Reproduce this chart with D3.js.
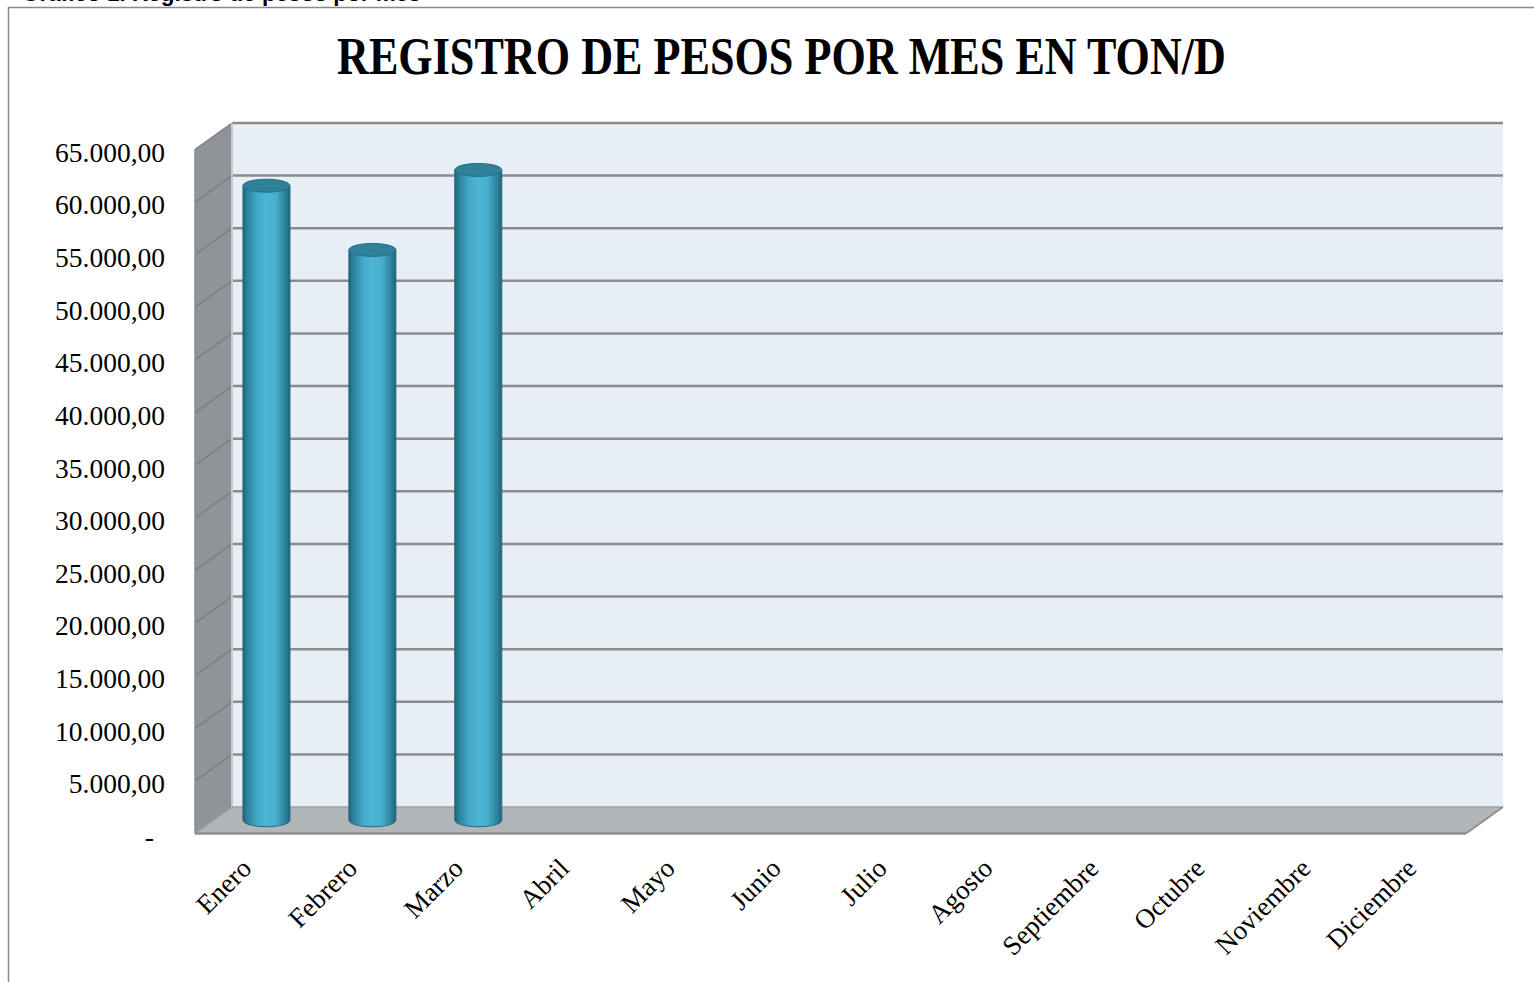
<!DOCTYPE html>
<html><head><meta charset="utf-8">
<script src="https://cdn.jsdelivr.net/npm/d3@7"></script>
<style>body{margin:0;background:#fff;overflow:hidden}svg{display:block}</style>
</head><body>
<svg id="c" width="1534" height="982"></svg>
<script>
// ---- data ----
const months = ["Enero","Febrero","Marzo","Abril","Mayo","Junio","Julio","Agosto","Septiembre","Octubre","Noviembre","Diciembre"];
const values = [60300, 54200, 61800, null, null, null, null, null, null, null, null, null];
const yTicks = [0,5000,10000,15000,20000,25000,30000,35000,40000,45000,50000,55000,60000,65000];
const title = "REGISTRO DE PESOS POR MES EN TON/D";
const caption = "Gráfico 1. Registro de pesos por mes";

// ---- layout ----
const svg = d3.select("#c");
const back = {l:232, r:1503, t:123, b:807};
const DX = -37, DY = 26.5;          // depth offset back -> front
const locale = d3.formatLocale({decimal:",", thousands:".", grouping:[3], currency:["",""]});
const fmt = v => v === 0 ? "-" : locale.format(",.2f")(v);

const yBack = d3.scaleLinear().domain([0,65000]).range([back.b, back.t]);
const yFront = d3.scaleLinear().domain([0,65000]).range([back.b+DY, back.t+DY]);
const xBack = d3.scaleBand().domain(months).range([back.l, back.r]).paddingInner(0.556).paddingOuter(0.278);
const xFront = d3.scaleBand().domain(months).range([back.l+DX, back.r+DX]).paddingInner(0.556).paddingOuter(0.278);

// frame and clipped caption
svg.append("text").attr("x",22).attr("y",1).attr("font-family","Liberation Sans, Arial, sans-serif")
  .attr("font-weight","bold").attr("font-size",22.5).attr("fill","#000").text(caption);
svg.append("path").attr("d","M8.5,982 L8.5,7.5 L1534,7.5").attr("fill","none").attr("stroke","#8a8a8a").attr("stroke-width",1.5);

// title
svg.append("text").attr("x",781.5).attr("y",74).attr("text-anchor","middle")
  .attr("font-family","Liberation Serif, 'DejaVu Serif', serif").attr("font-weight","bold")
  .attr("font-size",52).attr("textLength",889).attr("lengthAdjust","spacingAndGlyphs")
  .attr("fill","#000").text(title);

// back wall
svg.append("rect").attr("x",back.l).attr("y",back.t).attr("width",back.r-back.l).attr("height",back.b-back.t).attr("fill","#e8eef5");
// side wall
svg.append("polygon").attr("points",[[back.l+DX,back.t+DY],[back.l,back.t],[back.l,back.b],[back.l+DX,back.b+DY]].join(" "))
  .attr("fill","#909398");
// floor
svg.append("polygon").attr("points",[[back.l,back.b],[back.r,back.b],[back.r+DX,back.b+DY],[back.l+DX,back.b+DY]].join(" "))
  .attr("fill","#b3b6b9");

// gridlines (back wall + side wall)
const grid = svg.append("g");
grid.selectAll("line.g").data(yTicks.filter(d=>d>0)).join("line").attr("class","g")
  .attr("x1",back.l).attr("x2",back.r).attr("y1",d=>yBack(d)).attr("y2",d=>yBack(d))
  .attr("stroke","#8c8c8c").attr("stroke-width",2.5);
grid.selectAll("line.s").data(yTicks.filter(d=>d>0)).join("line").attr("class","s")
  .attr("x1",back.l+DX).attr("x2",back.l).attr("y1",d=>yFront(d)).attr("y2",d=>yBack(d))
  .attr("stroke","#7c7f83").attr("stroke-width",1.5);
// edges
svg.append("line").attr("x1",back.l).attr("x2",back.l).attr("y1",back.t).attr("y2",back.b).attr("stroke","#c6cacf").attr("stroke-width",2);
svg.append("line").attr("x1",back.l).attr("x2",back.r).attr("y1",back.b).attr("y2",back.b).attr("stroke","#9ea1a4").attr("stroke-width",1.5);
svg.append("line").attr("x1",back.l+DX).attr("x2",back.l).attr("y1",back.b+DY).attr("y2",back.b).attr("stroke","#9a9da1").attr("stroke-width",1.5);
svg.append("line").attr("x1",back.l+DX).attr("x2",back.r+DX).attr("y1",back.b+DY).attr("y2",back.b+DY).attr("stroke","#8d8f92").attr("stroke-width",2.5);
svg.append("line").attr("x1",back.r+DX).attr("x2",back.r).attr("y1",back.b+DY).attr("y2",back.b).attr("stroke","#8d8f92").attr("stroke-width",2);
svg.append("line").attr("x1",back.l+DX).attr("x2",back.l+DX).attr("y1",back.t+DY).attr("y2",back.b+DY).attr("stroke","#8a8d91").attr("stroke-width",1.5);

// gradient for cylinders
const defs = svg.append("defs");
const gr = defs.append("linearGradient").attr("id","cyl").attr("x1","0").attr("x2","1").attr("y1","0").attr("y2","0");
[["0%","#1d6379"],["8%","#2b8099"],["30%","#42a9c7"],["50%","#4db6d4"],["70%","#47afcd"],["88%","#2f87a1"],["100%","#1f6478"]]
  .forEach(([o,c])=>gr.append("stop").attr("offset",o).attr("stop-color",c));

// cylinders at mid depth
const bars = svg.append("g").attr("transform",`translate(${DX/2},${DY/2})`);
const rx = xBack.bandwidth()/2, ry = 6.5;
const data = months.map((m,i)=>({m, v:values[i]})).filter(d=>d.v!=null);
const bg = bars.selectAll("g.bar").data(data).join("g").attr("class","bar");
bg.append("path").attr("d",d=>{
  const cx = xBack(d.m)+rx, yt = yBack(d.v), yb = yBack(0);
  return `M${cx-rx},${yt} L${cx-rx},${yb} A${rx},${ry} 0 0 0 ${cx+rx},${yb} L${cx+rx},${yt} Z`;
}).attr("fill","url(#cyl)").attr("stroke","#226c82").attr("stroke-width",1);
bg.append("ellipse").attr("cx",d=>xBack(d.m)+rx).attr("cy",d=>yBack(d.v)).attr("rx",rx).attr("ry",ry)
  .attr("fill","#2f8099").attr("stroke","#246f86").attr("stroke-width",1);

// y axis labels
const yAx = svg.append("g").attr("transform","translate(165,3)")
  .call(d3.axisLeft(yFront).tickValues(yTicks).tickFormat(fmt).tickSize(0).tickPadding(0));
yAx.select(".domain").remove();
yAx.selectAll("text").attr("font-family","Liberation Serif, serif").attr("font-size",27.5).attr("fill","#000");
yAx.selectAll(".tick").filter(d=>d===0).select("text").attr("x",-11);

// x axis labels
const xAx = svg.append("g").attr("transform","translate(0,870)")
  .call(d3.axisBottom(xFront).tickSize(0).tickPadding(0));
xAx.select(".domain").remove();
xAx.selectAll("text").attr("font-family","Liberation Serif, serif").attr("font-size",27).attr("fill","#000")
  .attr("text-anchor","end").attr("x",0).attr("y",0).attr("dy",0)
  .attr("transform","translate(5,0) rotate(-45)");
</script>
</body></html>
